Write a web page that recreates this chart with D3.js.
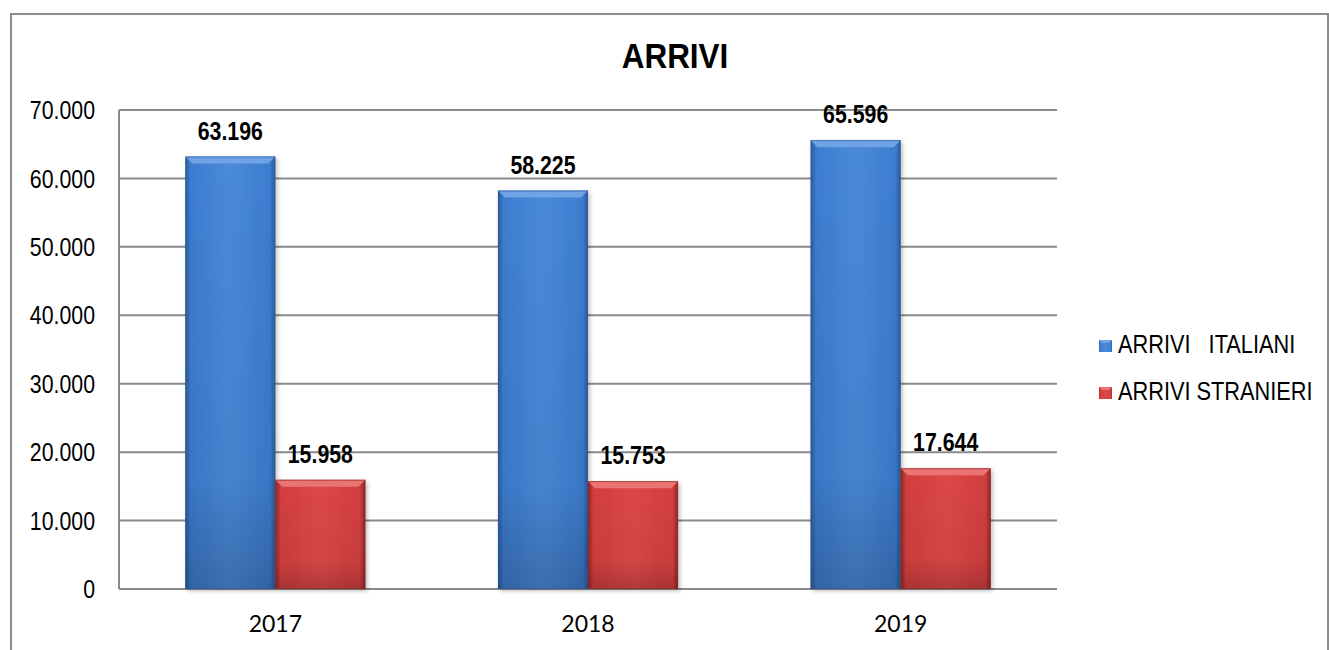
<!DOCTYPE html>
<html>
<head>
<meta charset="utf-8">
<script src="https://cdn.jsdelivr.net/npm/d3@7"></script>
<style>
  body { margin: 0; background: #fff; }
  svg text { font-family: "Liberation Sans", Arial, sans-serif; }
</style>
</head>
<body>
<div id="chart"></div>
<script>
// data
var years = ["2017", "2018", "2019"];
var seriesNames = ["ARRIVI   ITALIANI", "ARRIVI STRANIERI"];
var italiani = [63196, 58225, 65596];
var stranieri = [15958, 15753, 17644];
var yTicks = [0, 10000, 20000, 30000, 40000, 50000, 60000, 70000];

// Arial Narrow is not installed: squeeze Liberation Sans instead.
var NARROW = 0.82;
function narrowAt(x, y, k)
{
	return "translate(" + x + "," + y + ") scale(" + (k || NARROW) + ",1)";
}

function drawChart()
{
	var width = 1329;
	var height = 650;
	var plot = { left: 119, right: 1057, top: 110, bottom: 589 };

	var svg = d3.select("#chart")
		.append("svg")
		.attr("width", width)
		.attr("height", height);

	var defs = svg.append("defs");

	var palette = [
		{ edge: "#2b5a98", body: "#3d7ccf", light: "#4a8ad9", bevel: "#6fa3e6" },
		{ edge: "#8e2626", body: "#d23f3f", light: "#dc4848", bevel: "#ea7474" }
	];

	palette.forEach(function(p, i)
	{
		var gh = defs.append("linearGradient")
			.attr("id", "gh" + i)
			.attr("x1", 0).attr("x2", 1).attr("y1", 0).attr("y2", 0);
		gh.append("stop").attr("offset", "0%").attr("stop-color", p.edge);
		gh.append("stop").attr("offset", "6%").attr("stop-color", p.body);
		gh.append("stop").attr("offset", "50%").attr("stop-color", p.light);
		gh.append("stop").attr("offset", "94%").attr("stop-color", p.body);
		gh.append("stop").attr("offset", "100%").attr("stop-color", p.edge);

		var gv = defs.append("linearGradient")
			.attr("id", "gv" + i)
			.attr("x1", 0).attr("x2", 0).attr("y1", 0).attr("y2", 1);
		gv.append("stop").attr("offset", "0%").attr("stop-color", "#000").attr("stop-opacity", 0);
		gv.append("stop").attr("offset", "75%").attr("stop-color", "#000").attr("stop-opacity", 0.05);
		gv.append("stop").attr("offset", "100%").attr("stop-color", "#000").attr("stop-opacity", 0.2);
	});

	var shadow = defs.append("filter").attr("id", "shadow")
		.attr("x", "-10%").attr("y", "-10%").attr("width", "130%").attr("height", "120%");
	shadow.append("feDropShadow")
		.attr("dx", 2).attr("dy", 2).attr("stdDeviation", 2)
		.attr("flood-color", "#000").attr("flood-opacity", 0.25);

	// outer frame
	svg.append("rect")
		.attr("x", 11).attr("y", 14)
		.attr("width", 1317).attr("height", 660)
		.attr("fill", "none")
		.attr("stroke", "#8c8c8c")
		.attr("stroke-width", 2);

	var y = d3.scaleLinear()
		.domain([0, 70000])
		.range([plot.bottom, plot.top]);

	var x0 = d3.scaleBand()
		.domain(years)
		.range([plot.left, plot.right]);

	var bw = x0.bandwidth();
	var groupW = bw * 0.576;
	var x1 = d3.scaleBand()
		.domain([0, 1])
		.range([(bw - groupW) / 2, (bw + groupW) / 2]);

	// gridlines
	svg.append("g")
		.selectAll("line")
		.data(yTicks)
		.enter()
		.append("line")
		.attr("x1", plot.left)
		.attr("x2", plot.right)
		.attr("y1", function(d) { return y(d); })
		.attr("y2", function(d) { return y(d); })
		.attr("stroke", "#8a8a8a")
		.attr("stroke-width", 2);

	svg.append("line")
		.attr("x1", plot.left).attr("x2", plot.left)
		.attr("y1", plot.top).attr("y2", plot.bottom)
		.attr("stroke", "#8a8a8a")
		.attr("stroke-width", 2);

	// y labels
	var fmt = function(d) { return d3.format(",")(d).replace(/,/g, "."); };
	svg.append("g")
		.selectAll("text")
		.data(yTicks)
		.enter()
		.append("text")
		.attr("transform", function(d) { return narrowAt(95, y(d)); })
		.attr("dy", "0.35em")
		.attr("text-anchor", "end")
		.attr("font-size", 26)
		.attr("fill", "#000")
		.text(fmt);

	// x labels
	svg.append("g")
		.selectAll("text")
		.data(years)
		.enter()
		.append("text")
		.attr("x", function(d) { return x0(d) + bw / 2; })
		.attr("y", 632)
		.attr("text-anchor", "middle")
		.style("font-family", "Lato, 'Open Sans', sans-serif")
		.attr("font-size", 23)
		.attr("fill", "#000")
		.text(function(d) { return d; });

	// bars
	var rows = [];
	years.forEach(function(yr, i)
	{
		rows.push({ year: yr, s: 0, v: italiani[i] });
		rows.push({ year: yr, s: 1, v: stranieri[i] });
	});

	var bars = svg.append("g")
		.selectAll("g")
		.data(rows)
		.enter()
		.append("g")
		.attr("transform", function(d) { return "translate(" + (x0(d.year) + x1(d.s)) + ",0)"; });

	var bandW = x1.bandwidth();
	var bev = 7;

	bars.append("rect")
		.attr("x", 0)
		.attr("y", function(d) { return y(d.v); })
		.attr("width", bandW)
		.attr("height", function(d) { return plot.bottom - y(d.v); })
		.attr("fill", function(d) { return "url(#gh" + d.s + ")"; })
		.attr("filter", "url(#shadow)");

	bars.append("rect")
		.attr("x", 0)
		.attr("y", function(d) { return y(d.v); })
		.attr("width", bandW)
		.attr("height", function(d) { return plot.bottom - y(d.v); })
		.attr("fill", function(d) { return "url(#gv" + d.s + ")"; });

	// top bevel
	bars.append("polygon")
		.attr("points", function(d)
		{
			var t = y(d.v);
			return [[0, t], [bandW, t], [bandW - bev, t + bev], [bev, t + bev]].join(" ");
		})
		.attr("fill", function(d) { return palette[d.s].bevel; });

	bars.append("rect")
		.attr("x", 0.5)
		.attr("y", function(d) { return y(d.v) + 0.5; })
		.attr("width", bandW - 1)
		.attr("height", function(d) { return plot.bottom - y(d.v) - 1; })
		.attr("fill", "none")
		.attr("stroke", function(d) { return palette[d.s].edge; })
		.attr("stroke-opacity", 0.6)
		.attr("stroke-width", 1);

	// value labels
	bars.append("text")
		.attr("transform", function(d) { return narrowAt(bandW / 2, y(d.v) - 17); })
		.attr("text-anchor", "middle")
		.attr("font-size", 26)
		.attr("font-weight", "bold")
		.attr("fill", "#000")
		.text(function(d) { return fmt(d.v); });

	// title
	svg.append("text")
		.attr("transform", narrowAt(675, 68, 0.9))
		.attr("text-anchor", "middle")
		.attr("font-size", 35)
		.attr("font-weight", "bold")
		.attr("fill", "#000")
		.text("ARRIVI");

	// legend
	var legend = svg.append("g")
		.selectAll("g")
		.data(seriesNames)
		.enter()
		.append("g")
		.attr("transform", function(d, i) { return "translate(1099," + (340 + i * 47) + ")"; });

	legend.append("rect")
		.attr("width", 13)
		.attr("height", 12)
		.attr("fill", function(d, i) { return "url(#gh" + i + ")"; });

	legend.append("polygon")
		.attr("points", "0,0 13,0 10,3 3,3")
		.attr("fill", function(d, i) { return palette[i].bevel; });

	legend.append("text")
		.attr("transform", narrowAt(19, 13, 0.87))
		.attr("font-size", 25)
		.attr("fill", "#000")
		.style("white-space", "pre")
		.text(function(d) { return d; });
}

drawChart();
</script>
</body>
</html>
